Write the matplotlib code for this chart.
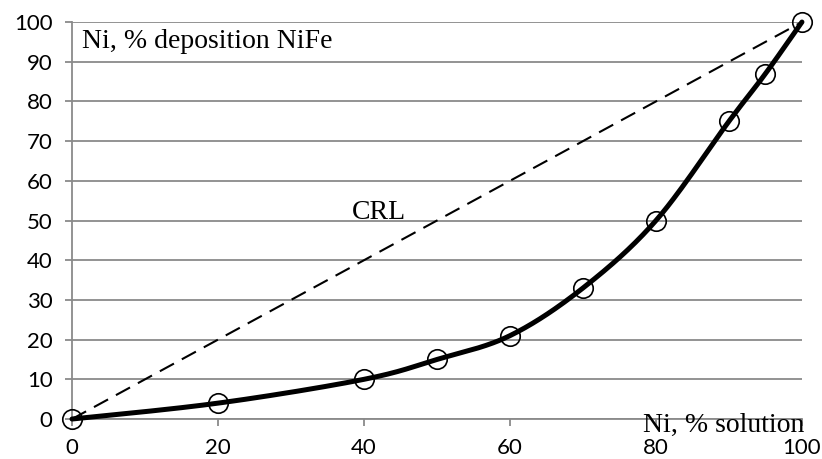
import numpy as np
import matplotlib
matplotlib.use("Agg")
from matplotlib import pyplot as plt

# Ni content in the solution vs. Ni content in the deposited NiFe alloy
ni_solution = [0, 20, 40, 50, 60, 70, 80, 90, 95, 100]
ni_deposit = [0, 4, 10, 15, 21, 33, 50, 75, 87, 100]
crl_x = [0, 100]
crl_y = [0, 100]


def smooth_curve(x, y, n=40):
    # spreadsheet-style smoothed line: cubic Bezier segments through every point
    p = np.column_stack([x, y]).astype(float)
    p = np.vstack([p[0], p, p[-1]])
    t = np.linspace(0, 1, n)[:, None]
    out = []
    for i in range(1, len(p) - 2):
        p0, p1, p2, p3 = p[i - 1], p[i], p[i + 1], p[i + 2]
        c1 = p1 + (p2 - p0) / 6
        c2 = p2 - (p3 - p1) / 6
        seg = ((1 - t) ** 3) * p1 + 3 * ((1 - t) ** 2) * t * c1 + 3 * (1 - t) * t ** 2 * c2 + t ** 3 * p2
        out.append(seg)
    seg = np.vstack(out)
    return seg[:, 0], seg[:, 1]


grey = '#8a8a8a'
fig = plt.figure(figsize=(8.22, 4.59), dpi=100)
ax = fig.add_axes([0.0876, 0.0871, 0.888, 0.8649])

sx, sy = smooth_curve(ni_solution, ni_deposit)
ax.plot(sx, sy, color='black', lw=3.6, solid_capstyle='round', zorder=3, clip_on=False)
ax.plot(ni_solution, ni_deposit, 'o', ms=14, mfc='none', mec='black', mew=1.2, zorder=4,
        clip_on=False)
ax.plot(crl_x, crl_y, color='black', lw=1.5, dashes=(7.7, 4.3), zorder=2)

ax.set_xlim(0, 100)
ax.set_ylim(0, 100)
ax.set_xticks(range(0, 101, 20))
ax.set_yticks(range(0, 101, 10))
ax.yaxis.grid(True, color=grey, lw=1.3)
ax.set_axisbelow(True)
for s in ['top', 'right']:
    ax.spines[s].set_visible(False)
for s in ['left', 'bottom']:
    ax.spines[s].set_color(grey)
    ax.spines[s].set_linewidth(1.3)
ax.tick_params(axis='both', colors=grey, width=1.3, length=5, labelcolor='black',
               labelsize=16, pad=9)
for lab in ax.get_xticklabels() + ax.get_yticklabels():
    lab.set_family('Lato')

serif = dict(family='Liberation Serif', fontsize=20, color='black')
ax.text(1.4, 95.2, 'Ni, % deposition NiFe', ha='left', va='center', **serif)
ax.text(38.3, 52, 'CRL', ha='left', va='center', **serif)
ax.text(100.4, -3.3, 'Ni, % solution', ha='right', va='baseline', **serif)

fig.savefig('out.png', dpi=100)
